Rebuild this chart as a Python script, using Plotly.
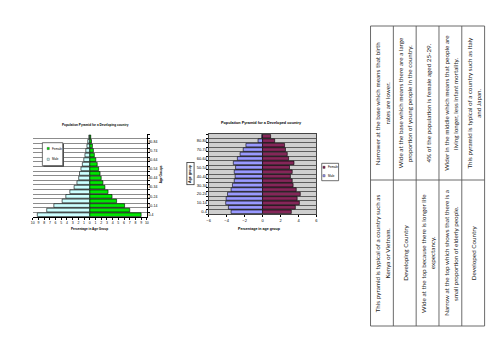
import plotly.graph_objects as go

W, H = 500, 354

# ---------------- data ----------------
age_groups = ["0-4", "5-9", "10-14", "15-19", "20-24", "25-29", "30-34", "35-39",
              "40-44", "45-49", "50-54", "55-59", "60-64", "65-69", "70-74",
              "75-79", "80-84", "85-89"]

# Developing country (% of population)
dev_female = [9.0, 7.0, 6.1, 4.7, 3.9, 3.2, 2.65, 2.3, 2.0, 1.8, 1.55, 1.3,
              1.05, 0.8, 0.63, 0.46, 0.3, 0.17]
dev_male = [9.2, 7.55, 6.3, 4.85, 4.2, 3.5, 2.75, 2.25, 1.95, 1.8, 1.55, 1.3,
            1.05, 0.85, 0.7, 0.5, 0.35, 0.17]

# Developed country (% of population)
ed_female = [3.2, 3.65, 4.1, 3.85, 4.2, 3.75, 3.4, 3.3, 3.1, 3.3, 3.0, 3.5,
             2.9, 2.75, 2.55, 2.45, 1.35, 0.9]
ed_male = [3.5, 3.8, 4.1, 4.05, 3.9, 3.5, 3.35, 3.15, 3.05, 3.15, 3.0, 3.25,
           2.8, 2.5, 2.15, 1.85, 0.5, 0.1]

dev_ticks = list(range(-10, 11))
ed_ticks = [-6, -4, -2, 0, 2, 4, 6]

table_rows = [
    ("This pyramid is typical of a country such as|Kenya or Vietnam.",
     "Narrower at the base which means that birth|rates are lower."),
    ("Developing Country",
     "Wide at the base which means there are a large|proportion of young people in the country."),
    ("Wide at the top because there is longer life|expectancy.",
     "4% of the population is female aged 25-29."),
    ("Narrow at the top which shows that there is a|small proportion of elderly people.",
     "Wider in the middle which means that people are|living longer, less infant mortality."),
    ("Developed Country",
     "This pyramid is typical of a country such as Italy|and Japan."),
]

# ---------------- helpers ----------------
def px(x):
    return x / W


def py(y):
    return 1 - y / H


CHART_FONT = "Liberation Sans, Arial, sans-serif"
TABLE_FONT = "Lato, Carlito, sans-serif"

DEV_F = "#00E600"
DEV_M = "#CCFFFF"
ED_F = "#852659"
ED_M = "#9999FF"

fig = go.Figure()

fig.add_trace(go.Bar(y=age_groups, x=[-v for v in dev_male], orientation="h", name="Male",
                     marker=dict(color=DEV_M, line=dict(color="black", width=0.6)),
                     xaxis="x", yaxis="y", showlegend=False))
fig.add_trace(go.Bar(y=age_groups, x=dev_female, orientation="h", name="Female",
                     marker=dict(color=DEV_F, line=dict(color="black", width=0.6)),
                     xaxis="x", yaxis="y", showlegend=False))
fig.add_trace(go.Bar(y=age_groups, x=[-v for v in ed_male], orientation="h", name="Male",
                     marker=dict(color=ED_M, line=dict(color="black", width=0.6)),
                     xaxis="x2", yaxis="y2", showlegend=False))
fig.add_trace(go.Bar(y=age_groups, x=ed_female, orientation="h", name="Female",
                     marker=dict(color=ED_F, line=dict(color="black", width=0.6)),
                     xaxis="x2", yaxis="y2", showlegend=False))

tick_text = [a if i % 2 == 0 else "" for i, a in enumerate(age_groups)]

fig.update_layout(
    width=W, height=H, margin=dict(l=0, r=0, t=0, b=0),
    paper_bgcolor="white", plot_bgcolor="rgba(0,0,0,0)",
    barmode="overlay", bargap=0.2,
    font=dict(family=CHART_FONT, color="black"),
    xaxis=dict(domain=[px(31), px(146)], anchor="y", range=[-10, 10],
               tickvals=dev_ticks, ticktext=[str(abs(v)) for v in dev_ticks],
               tickfont=dict(size=3.5), ticks="outside", ticklen=2, tickwidth=0.6,
               tickcolor="black", showline=True, linecolor="black", linewidth=0.8,
               showgrid=False, zeroline=False, fixedrange=True),
    yaxis=dict(domain=[py(217), py(134.4)], anchor="x", side="right", type="category",
               categoryorder="array", categoryarray=age_groups, range=[-0.5, 17.5],
               tickvals=age_groups, ticktext=tick_text, tickson="boundaries",
               ticks="outside", ticklen=2, tickwidth=0.6, tickcolor="black",
               tickfont=dict(size=3.5), showgrid=True, gridcolor="#8c8c8c",
               gridwidth=0.7, showline=True, linecolor="black", linewidth=0.8,
               fixedrange=True),
    xaxis2=dict(domain=[px(208.3), px(317)], anchor="y2", range=[-6, 6],
                tickvals=ed_ticks, tickfont=dict(size=4), ticks="outside",
                ticklen=2, tickwidth=0.6, tickcolor="black", showline=True,
                mirror=True, linecolor="#444", linewidth=0.8, showgrid=False,
                zeroline=False, fixedrange=True),
    yaxis2=dict(domain=[py(214), py(134)], anchor="x2", type="category",
                categoryorder="array", categoryarray=age_groups, range=[-0.5, 17.5],
                tickvals=age_groups, ticktext=tick_text, tickson="boundaries",
                ticks="outside", ticklen=2, tickwidth=0.6, tickcolor="black",
                tickfont=dict(size=4), showgrid=True, gridcolor="#5e5e5e",
                gridwidth=0.7, showline=True, mirror=True, linecolor="#444",
                linewidth=0.8, fixedrange=True),
)

shapes = []
annos = []

# gray plot area for developed chart
shapes.append(dict(type="rect", xref="x2 domain", yref="y2 domain", x0=0, x1=1, y0=0, y1=1,
                   fillcolor="#cfcfcf", line=dict(width=0), layer="below"))

# ---- chart titles & axis titles ----
annos.append(dict(text="<b>Population Pyramid for a Developing country</b>", x=px(94.7), y=py(125),
                  xref="paper", yref="paper", showarrow=False, xanchor="center", yanchor="middle",
                  font=dict(size=3.1)))
annos.append(dict(text="<b>Percentage in Age Group</b>", x=px(88.5), y=py(229),
                  xref="paper", yref="paper", showarrow=False, xanchor="center", yanchor="middle",
                  font=dict(size=3.1)))
annos.append(dict(text="<b>Age Groups</b>", x=px(160.5), y=py(174), textangle=-90,
                  xref="paper", yref="paper", showarrow=False, xanchor="center", yanchor="middle",
                  font=dict(size=3.1)))

annos.append(dict(text="<b>Population Pyramid for a Developed country</b>", x=px(261.5), y=py(122.7),
                  xref="paper", yref="paper", showarrow=False, xanchor="center", yanchor="middle",
                  font=dict(size=3.8)))
annos.append(dict(text="<b>Percentage in age group</b>", x=px(260), y=py(228.5),
                  xref="paper", yref="paper", showarrow=False, xanchor="center", yanchor="middle",
                  font=dict(size=3.6)))
annos.append(dict(text="<b>Age group</b>", x=px(190.3), y=py(173.3), textangle=-90,
                  xref="paper", yref="paper", showarrow=False, xanchor="center", yanchor="middle",
                  font=dict(size=3.6), bordercolor="#333", borderwidth=0.8, borderpad=1.2,
                  bgcolor="white"))

# ---- legends (drawn) ----
def legend_box(x0, y0, x1, y1, shadow):
    if shadow:
        shapes.append(dict(type="rect", xref="paper", yref="paper", x0=px(x0 + 1.2), x1=px(x1 + 1.2),
                           y0=py(y1 + 1.2), y1=py(y0 + 1.2), fillcolor="#555", line=dict(width=0)))
    shapes.append(dict(type="rect", xref="paper", yref="paper", x0=px(x0), x1=px(x1),
                       y0=py(y1), y1=py(y0), fillcolor="white", line=dict(color="#333", width=0.7)))


def legend_item(x, y, color, label, size):
    shapes.append(dict(type="rect", xref="paper", yref="paper", x0=px(x), x1=px(x + 2.2),
                       y0=py(y + 1.1), y1=py(y - 1.1), fillcolor=color,
                       line=dict(color="black", width=0.3)))
    annos.append(dict(text=label, x=px(x + 3.2), y=py(y), xref="paper", yref="paper",
                      showarrow=False, xanchor="left", yanchor="middle", font=dict(size=size)))


legend_box(40.7, 142.7, 61.3, 165.7, True)
legend_item(45.5, 148.5, DEV_F, "Female", 3.0)
legend_item(45.5, 159.3, DEV_M, "Male", 3.0)

legend_box(322.3, 163.3, 339.3, 180.7, False)
legend_item(323.5, 167.3, ED_F, "Female", 3.0)
legend_item(323.5, 175.7, ED_M, "Male", 3.0)

# ---- rotated table ----
col_x = [371.5, 394.5, 417.5, 440.5, 463.5, 486.5]
row_y_top, row_y_mid, row_y_bot = 26, 180, 326
TC = "#5a5a5a"
for xv in col_x:
    shapes.append(dict(type="line", xref="paper", yref="paper", x0=px(xv), x1=px(xv),
                       y0=py(row_y_top), y1=py(row_y_bot), line=dict(color=TC, width=0.9)))
for yv in (row_y_top, row_y_mid, row_y_bot):
    shapes.append(dict(type="line", xref="paper", yref="paper", x0=px(col_x[0]), x1=px(col_x[-1]),
                       y0=py(yv), y1=py(yv), line=dict(color=TC, width=0.9)))

LINE_GAP = 9.3
for i, (a, b) in enumerate(table_rows):
    cx = (col_x[i] + col_x[i + 1]) / 2
    for text, cy in ((a, (row_y_mid + row_y_bot) / 2), (b, (row_y_top + row_y_mid) / 2)):
        lines = text.split("|")
        n = len(lines)
        for k, ln in enumerate(lines):
            off = (k - (n - 1) / 2) * LINE_GAP
            annos.append(dict(text=ln, x=px(cx + off), y=py(cy), textangle=-90,
                              xref="paper", yref="paper", showarrow=False,
                              xanchor="center", yanchor="middle",
                              font=dict(family=TABLE_FONT, size=6.3, color="#1e1e1e")))

fig.update_layout(shapes=shapes, annotations=annos)
fig.write_html("out.html")
